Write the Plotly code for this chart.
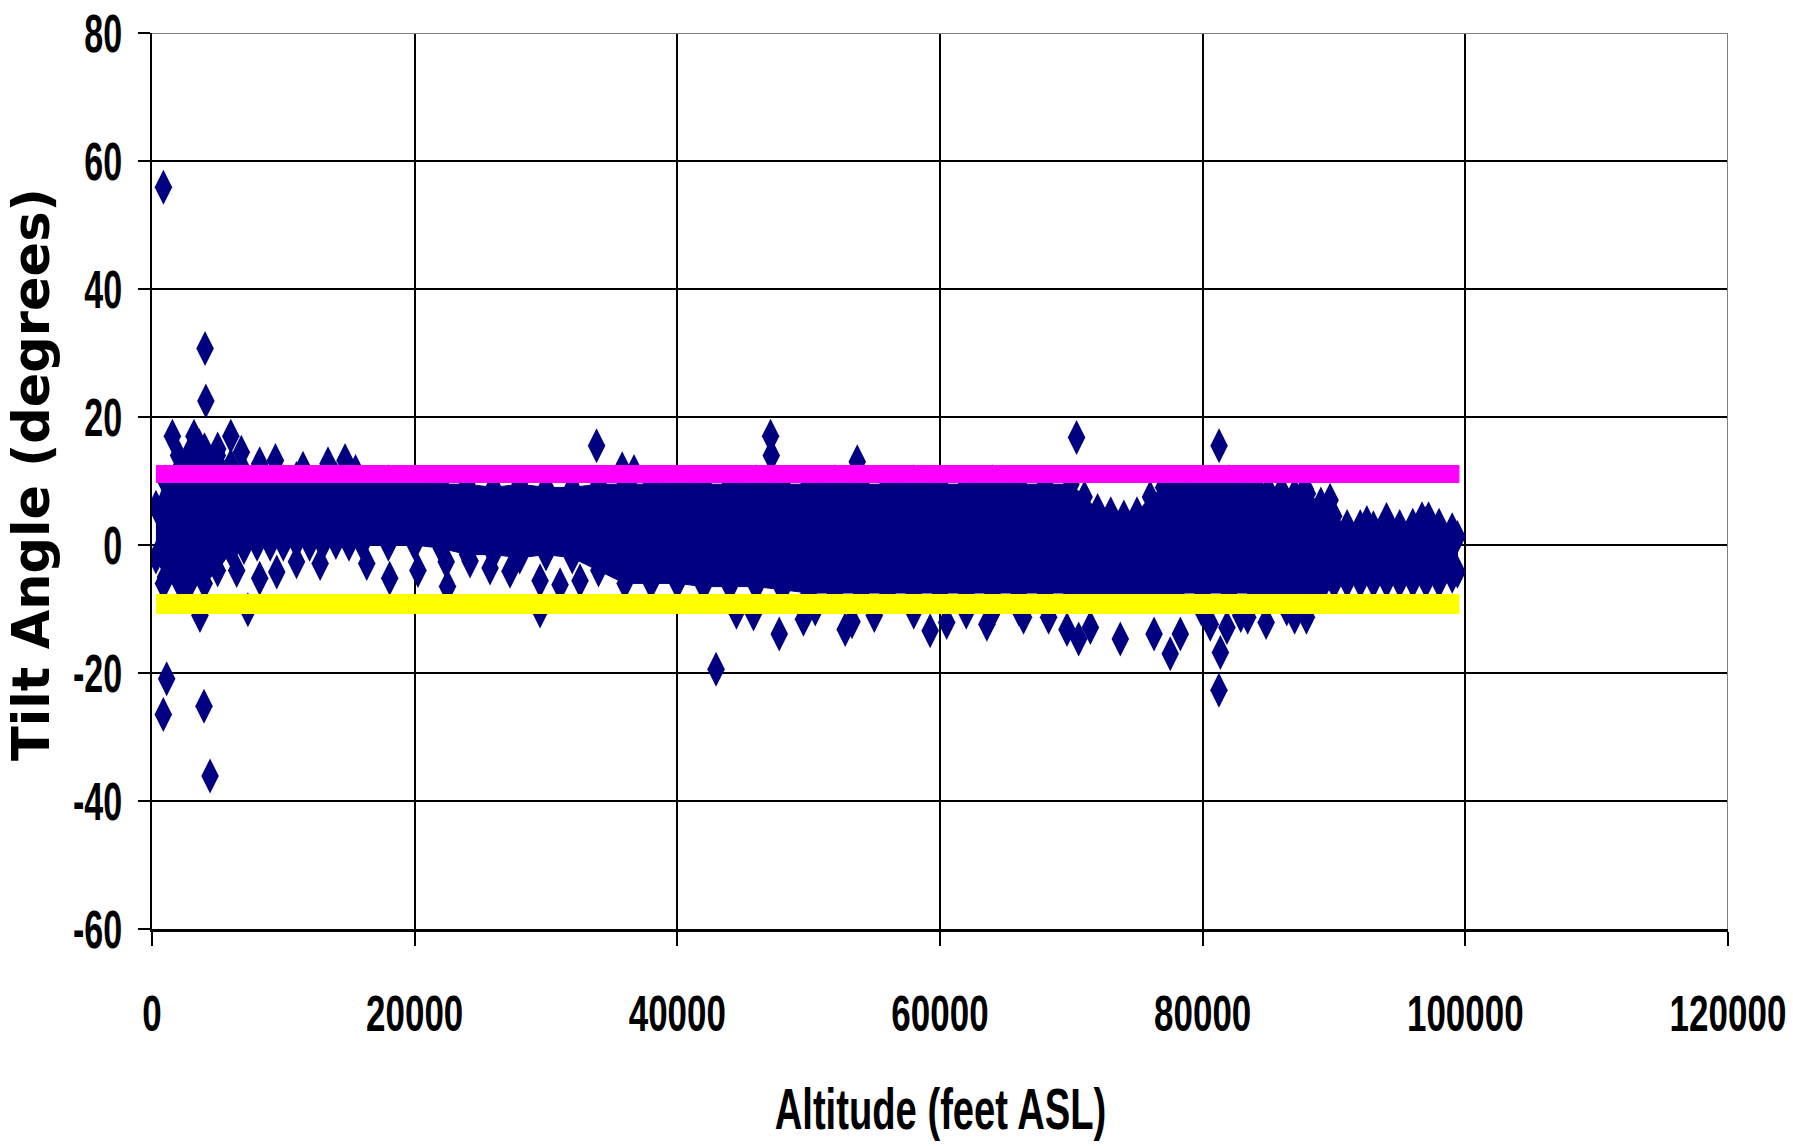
import plotly.graph_objects as go

# ---- data ----
# dense band of readings: outer edges (marker centres) at sampled altitudes
band_alt = [300, 1000, 2000, 3000, 4000, 5000, 6000, 7000, 8000, 9000, 10000, 11000,
            12000, 13000, 14000, 15000, 16000, 18000, 20000, 22000, 24000, 26000,
            28000, 30000, 32000, 34000, 36000, 38000, 40000, 42000, 44000, 46000,
            48000, 50000, 52000, 54000, 56000, 58000, 60000, 62000, 64000, 66000,
            68000, 70000, 71000, 72000, 73000, 74000, 75000, 76000, 77000, 78000,
            80000, 82000, 84000, 85000, 86000, 87000, 88000, 89000, 90000, 91000,
            92000, 93000, 94000, 95000, 96000, 97000, 98000, 99000, 99400]
band_top = [6, 10, 14, 15, 15, 14, 12.5, 11.5, 10.5, 10, 10, 10.5,
            10, 10, 10.5, 10, 10, 10, 10, 9.5, 9.5, 9,
            9.5, 9, 9, 9.5, 9.5, 9.5, 10, 9.5, 9.5, 10,
            9.5, 9.5, 10, 9.5, 9.5, 10, 9.5, 9.5, 10, 9.5,
            9.5, 9.5, 7.5, 5.5, 5, 4.5, 5, 7.5, 9, 9.5,
            10, 10, 9.5, 8.5, 8.5, 8, 8, 6.5, 4.5, 3,
            3, 2.8, 3.2, 3, 3.2, 3.5, 3.2, 2.5, 1.3]
band_bot = [-2, -5, -5.5, -5.5, -6, -4, -1, -0.5, 0, 0, 0, 0.3,
            0, 0, 0.3, 0, 0, 0, 0, -0.5, -1.5, -1.5,
            -2, -1.5, -2, -4, -6, -6, -6, -6.5, -6.5, -6.5,
            -7, -7.5, -7.5, -7.5, -7.5, -7.5, -7.5, -7.5, -7.5, -7.5,
            -7.5, -7.5, -7.5, -7.5, -7.5, -7.5, -7.5, -7.5, -7.5, -7.5,
            -7.5, -7.5, -7.5, -7.5, -7.5, -7.5, -7.5, -7, -6, -5.8,
            -5.8, -5.8, -5.8, -5.8, -5.8, -5.8, -5.8, -5, -4.2]

# individual readings outside the dense band
pt_alt = [870, 4040, 4100, 1550, 3200, 6000, 3600, 5000, 6800, 9400, 8200, 13400,
          14700, 11500, 15500, 33850, 35800, 36700, 47100, 47150, 53700, 70400,
          81250, 87800, 89700, 87700, 77300, 94000, 96700, 97200, 92500,
          1120, 860, 3960, 4420, 3650, 7300, 870, 2500, 6450, 8200, 9500, 11000,
          12800, 16350, 18100, 20250, 22400, 22500, 24220, 25740, 27260, 29550,
          31070, 32590, 29550, 45800, 47760, 42950, 49600, 52780, 59250, 60510,
          63570, 66360, 68270, 70560, 73730, 71450, 69670, 77530, 78300, 76300,
          81350, 81240, 80580, 81850, 84830, 83430, 87000, 87900, 44500, 53300,
          55000, 50500, 58000, 62000, 64000, 66000, 86400, 82900, 79900]
pt_val = [55.9, 30.7, 22.5, 17.0, 17.0, 17.0, 15.5, 15.0, 14.5, 13.2, 12.7, 12.7,
          13.2, 12.0, 11.5, 15.5, 11.9, 11.5, 17.0, 14.0, 13.0, 16.8,
          15.5, 8.8, 7.0, 8.3, 8.3, 4.0, 4.1, 4.1, 3.5,
          -20.9, -26.5, -25.2, -36.1, -11.0, -10.1, -6.0, -8.0, -4.0, -5.2, -4.2, -2.6,
          -2.9, -2.9, -5.2, -4.0, -2.6, -6.5, -2.5, -3.6, -4.1, -5.6,
          -6.2, -5.6, -10.3, -10.8, -13.9, -19.4, -11.6, -13.2, -13.4, -12.1,
          -12.4, -11.3, -11.3, -14.7, -14.7, -12.9, -13.2, -17.0, -13.9, -13.9,
          -16.8, -22.7, -12.4, -12.9, -12.1, -11.3, -11.3, -11.3, -10.5, -12.0,
          -11.0, -10.0, -10.5, -10.5, -10.5, -10.0, -10.0, -11.0, -10.0]

# limit lines
limit_alt = [300, 99550]
upper_limit = [11.1, 11.1]
lower_limit = [-9.2, -9.2]

x_tick_vals = [0, 20000, 40000, 60000, 80000, 100000, 120000]
x_tick_text = ["0", "20000", "40000", "60000", "80000", "100000", "120000"]
y_tick_vals = [80, 60, 40, 20, 0, -20, -40, -60]
y_tick_text = ["80", "60", "40", "20", "0", "-20", "-40", "-60"]

x_title = "Altitude (feet ASL)"
y_title = "Tilt Angle (degrees)"

NAVY = "#000080"
SANS = "Liberation Sans, Arial, sans-serif"

fig = go.Figure()

# filled body of the dense band
fig.add_trace(go.Scatter(
    x=band_alt + band_alt[::-1], y=band_top + band_bot[::-1],
    mode="lines", fill="toself", fillcolor=NAVY,
    line=dict(color=NAVY, width=1), hoverinfo="skip", showlegend=False))

# diamonds on the band edges
fig.add_trace(go.Scatter(
    x=band_alt + band_alt, y=band_top + band_bot, mode="markers",
    marker=dict(symbol="diamond-tall", size=24, color=NAVY, line=dict(width=0)),
    showlegend=False))

# individual points
fig.add_trace(go.Scatter(
    x=pt_alt, y=pt_val, mode="markers",
    marker=dict(symbol="diamond-tall", size=25, color=NAVY, line=dict(width=0)),
    showlegend=False))

fig.add_trace(go.Scatter(x=limit_alt, y=upper_limit, mode="lines",
                         line=dict(color="#FF00FF", width=18), showlegend=False))
fig.add_trace(go.Scatter(x=limit_alt, y=lower_limit, mode="lines",
                         line=dict(color="#FFFF00", width=20), showlegend=False))

# grey plot-area border on top and right
fig.add_shape(type="line", x0=0, x1=120000, y0=80, y1=80, xref="x", yref="y",
              line=dict(color="#808080", width=2), layer="above")
fig.add_shape(type="line", x0=120000, x1=120000, y0=-60, y1=80, xref="x", yref="y",
              line=dict(color="#808080", width=2), layer="above")

# axis titles
fig.add_annotation(text=x_title, xref="paper", yref="paper", x=0.5, y=-0.201,
                   xanchor="center", yanchor="middle", showarrow=False,
                   font=dict(family=SANS, size=57, color="black", weight="bold"))
fig.add_annotation(text=y_title, xref="paper", yref="paper", x=-0.0761, y=0.5067,
                   xanchor="center", yanchor="middle", showarrow=False, textangle=-90,
                   font=dict(family="DejaVu Sans, Liberation Sans, sans-serif", size=51,
                             color="black", weight="bold"))

fig.update_layout(
    width=1793, height=1146,
    margin=dict(l=152, r=65, t=33, b=217),
    paper_bgcolor="white", plot_bgcolor="white",
    showlegend=False,
)
fig.update_xaxes(
    range=[0, 120000], tickvals=x_tick_vals, ticktext=x_tick_text,
    automargin=False, ticklabeloverflow="allow",
    showgrid=True, gridcolor="black", gridwidth=2, zeroline=False,
    showline=True, linecolor="black", linewidth=3,
    ticks="outside", ticklen=14, tickwidth=2, tickcolor="black",
    tickfont=dict(family=SANS, size=50, color="black", weight="bold"),
    ticklabelstandoff=25,
)
fig.update_yaxes(
    range=[-60, 80], tickvals=y_tick_vals, ticktext=y_tick_text,
    automargin=False,
    showgrid=True, gridcolor="black", gridwidth=2, zeroline=False,
    showline=True, linecolor="black", linewidth=2,
    ticks="outside", ticklen=12, tickwidth=2, tickcolor="black",
    tickfont=dict(family=SANS, size=54, color="black", weight="bold"),
    ticklabelstandoff=5,
)

# the reference uses a condensed bold face: narrow the horizontal texts in place
squeeze_js = """
(function(){
  function squeeze(){
    var gd = document.querySelector('.js-plotly-plot');
    if (!gd) return;
    var specs = [['.xtick text', 0.70, 'c'], ['.ytick text', 0.63, 'a'],
                 ['.annotation-text', 0.67, 'c']];
    specs.forEach(function(sp){
      gd.querySelectorAll(sp[0]).forEach(function(t){
        if (sp[0] === '.annotation-text' && t.textContent !== '""" + x_title + """') return;
        var cur = t.getAttribute('transform') || '';
        if (t.getAttribute('data-sq') === cur) return;
        var bb = t.getBBox();
        var anchor = t.getAttribute('text-anchor') || 'start';
        var cx = bb.x + bb.width / 2;
        if (sp[2] === 'a') {
          if (anchor === 'end') cx = bb.x + bb.width;
          else if (anchor === 'start') cx = bb.x;
        }
        var nt = cur + ' translate(' + cx + ',0) scale(' + sp[1] + ',1) translate(' + (-cx) + ',0)';
        t.setAttribute('transform', nt);
        t.setAttribute('data-sq', nt);
      });
    });
  }
  squeeze();
  var gd = document.querySelector('.js-plotly-plot');
  if (gd && gd.on) gd.on('plotly_afterplot', squeeze);
})();
document.body.style.margin = '0';
"""

fig.write_html("out.html", config={"displayModeBar": False}, post_script=squeeze_js)
